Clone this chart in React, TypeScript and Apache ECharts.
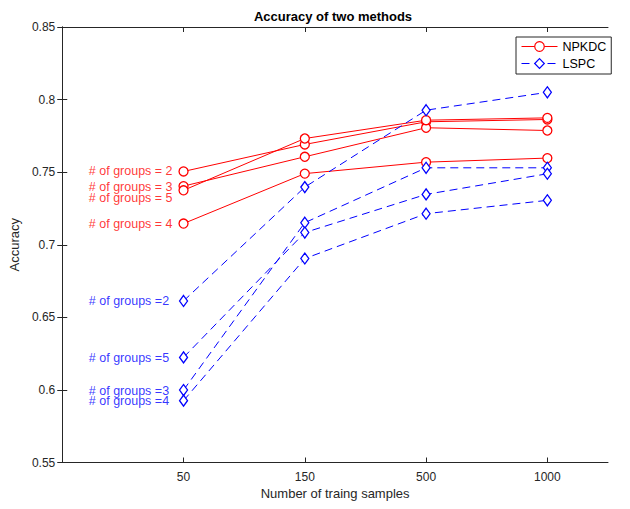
import React, { useEffect, useRef } from "react";
import * as echarts from "echarts";

const xTickLabels = ["50", "150", "500", "1000"];
const xPositions = [1, 2, 3, 4];

// NPKDC accuracies (groups 2, 3, 5, 4)
const npkdcG2 = [0.7505, 0.7691, 0.7847, 0.7863];
const npkdcG3 = [0.7404, 0.7606, 0.7806, 0.7787];
const npkdcG5 = [0.7375, 0.7732, 0.7858, 0.7874];
const npkdcG4 = [0.7146, 0.749, 0.7569, 0.7597];

// LSPC accuracies (groups 2, 3, 5, 4)
const lspcG2 = [0.6613, 0.7397, 0.7927, 0.805];
const lspcG3 = [0.5999, 0.7152, 0.753, 0.753];
const lspcG5 = [0.6224, 0.7084, 0.7347, 0.7489];
const lspcG4 = [0.5926, 0.6905, 0.7214, 0.7306];

const labelX = 0.215;
const npkdcLabels = ["# of groups = 2", "# of groups = 3", "# of groups = 5", "# of groups = 4"];
const npkdcLabelY = [0.7507, 0.74, 0.732, 0.7146];
const lspcLabels = ["# of groups =2", "# of groups =5", "# of groups =3", "# of groups =4"];
const lspcLabelY = [0.661, 0.622, 0.5995, 0.5924];

const RED = "#ff0000";
const BLUE = "#0000ff";
const AX = "#262626";
const FONT = "Liberation Sans";

function toPts(vals: number[]) {
  return xPositions.map((x, i) => [x, vals[i]]);
}

export default function App() {
  const ref = useRef<HTMLDivElement>(null);
  useEffect(() => {
    if (!ref.current) return;
    const chart = echarts.init(ref.current, null, { renderer: "svg" });

    const npSeries = [npkdcG2, npkdcG3, npkdcG5, npkdcG4].map((v) => ({
      name: "NPKDC",
      type: "line",
      data: toPts(v),
      symbol: "circle",
      symbolSize: 9,
      lineStyle: { color: RED, width: 1 },
      itemStyle: { color: "#ffffff", borderColor: RED, borderWidth: 1.3 },
      emphasis: { disabled: true },
    }));
    const lsSeries = [lspcG2, lspcG3, lspcG5, lspcG4].map((v) => ({
      name: "LSPC",
      type: "line",
      data: toPts(v),
      symbol: "diamond",
      symbolSize: [8, 11],
      lineStyle: { color: BLUE, width: 1, type: [8, 5] },
      itemStyle: { color: "#ffffff", borderColor: BLUE, borderWidth: 1.3 },
      emphasis: { disabled: true },
    }));

    const labelSeries = (names: string[], ys: number[], color: string, id: string) => ({
      name: id,
      type: "scatter",
      silent: true,
      symbolSize: 1,
      itemStyle: { color: "transparent" },
      data: names.map((n, i) => ({ name: n, value: [labelX, ys[i]] })),
      label: {
        show: true,
        position: "right",
        distance: 0,
        formatter: "{b}",
        color,
        fontSize: 12.5,
        fontFamily: FONT,
      },
    });

    const xBase = {
      type: "value",
      min: 0,
      max: 4.5,
      interval: 1,
      axisLine: { show: true, lineStyle: { color: AX, width: 1 } },
      axisTick: { show: true, inside: true, length: 5, lineStyle: { color: AX }, customValues: xPositions },
      splitLine: { show: false },
    };
    const yBase = {
      type: "value",
      min: 0.55,
      max: 0.85,
      interval: 0.05,
      axisLine: { show: true, lineStyle: { color: AX, width: 1 } },
      axisTick: { show: true, inside: true, length: 5, lineStyle: { color: AX } },
      splitLine: { show: false },
    };

    chart.setOption({
      animation: false,
      grid: { left: 58, right: 22, top: 27, bottom: 46.5, containLabel: false },
      graphic: [
        {
          type: "text",
          x: 333,
          y: 16,
          style: {
            text: "Accuracy of two methods",
            textAlign: "center",
            textVerticalAlign: "middle",
            font: `bold 13px "${FONT}"`,
            fill: "#000000",
          },
        },
      ],
      legend: {
        data: ["NPKDC", "LSPC"],
        orient: "vertical",
        left: 516,
        top: 37,
        padding: [3, 5, 4, 5],
        itemGap: 4,
        itemWidth: 36,
        itemHeight: 12,
        backgroundColor: "#ffffff",
        borderColor: AX,
        borderWidth: 1,
        borderRadius: 0,
        lineStyle: { width: 1 },
        itemStyle: { borderWidth: 1.2 },
        textStyle: { fontSize: 12.5, fontFamily: FONT, color: "#000000", padding: [0, 0, 0, 0] },
      },
      xAxis: [
        {
          ...xBase,
          position: "bottom",
          name: "Number of traing samples",
          nameLocation: "middle",
          nameGap: 24,
          nameTextStyle: { fontSize: 13, fontFamily: FONT, color: AX },
          axisLabel: {
            show: true,
            color: AX,
            fontSize: 12,
            fontFamily: FONT,
            margin: 8,
            customValues: xPositions,
            formatter: (v: number) => {
              const i = xPositions.indexOf(v);
              return i >= 0 ? xTickLabels[i] : "";
            },
          },
        },
        { ...xBase, position: "top", axisLabel: { show: false } },
      ],
      yAxis: [
        {
          ...yBase,
          position: "left",
          name: "Accuracy",
          nameLocation: "middle",
          nameGap: 33,
          nameTextStyle: { fontSize: 13, fontFamily: FONT, color: AX },
          axisLabel: { show: true, color: AX, fontSize: 12, fontFamily: FONT, margin: 7 },
        },
        { ...yBase, position: "right", axisLabel: { show: false } },
      ],
      series: [
        ...npSeries,
        ...lsSeries,
        labelSeries(npkdcLabels, npkdcLabelY, RED, "npLabels"),
        labelSeries(lspcLabels, lspcLabelY, BLUE, "lsLabels"),
      ],
    });
    return () => chart.dispose();
  }, []);
  return (
    <div
      ref={ref}
      style={{ position: "absolute", left: 0, top: 0, width: 630, height: 509, background: "#ffffff" }}
    />
  );
}
